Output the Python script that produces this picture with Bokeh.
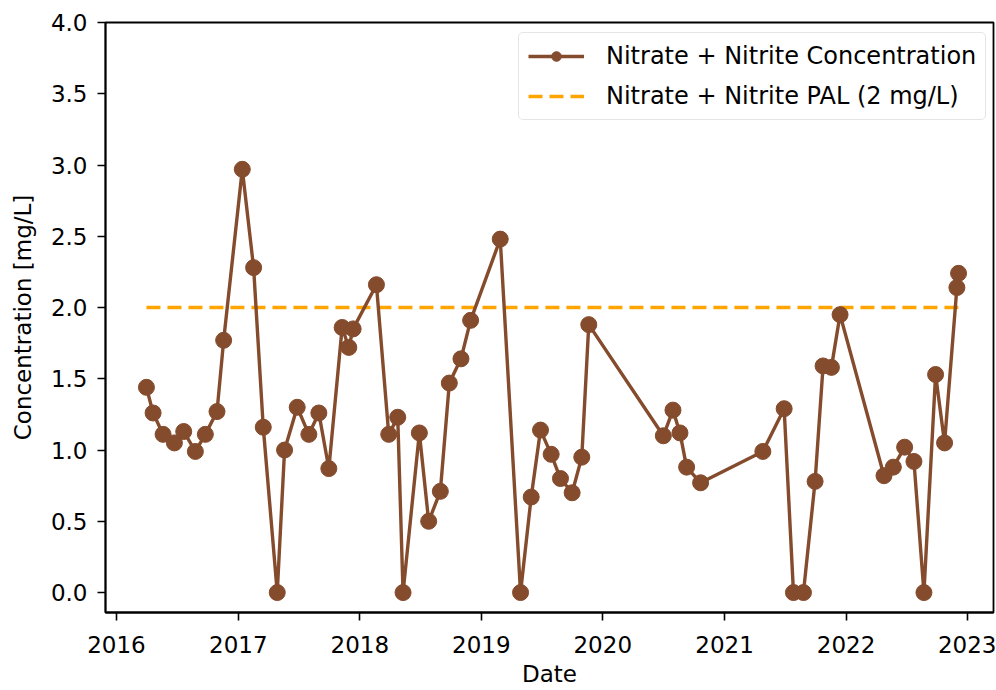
import pandas as pd
from bokeh.plotting import figure
from bokeh.models import (Range1d, FixedTicker, DatetimeTickFormatter, Legend, LegendItem,
                          CustomJSTickFormatter)
from bokeh.embed import file_html
from bokeh.resources import INLINE

# ---- data ----
sample_dates = [
    "2016-03-31", "2016-04-20", "2016-05-20", "2016-06-23", "2016-07-21", "2016-08-25",
    "2016-09-24", "2016-10-29", "2016-11-18", "2017-01-13", "2017-02-16", "2017-03-17",
    "2017-04-28", "2017-05-20", "2017-06-27", "2017-08-01", "2017-08-31", "2017-09-30",
    "2017-11-09", "2017-11-29", "2017-12-12", "2018-02-20", "2018-03-29", "2018-04-25",
    "2018-05-11", "2018-06-29", "2018-07-27", "2018-08-31", "2018-09-27", "2018-11-01",
    "2018-11-30", "2019-02-27", "2019-04-29", "2019-05-31", "2019-06-28", "2019-07-30",
    "2019-08-27", "2019-10-01", "2019-10-30", "2019-11-20", "2020-07-01", "2020-07-30",
    "2020-08-20", "2020-09-09", "2020-10-21", "2021-04-26", "2021-06-29", "2021-07-27",
    "2021-08-26", "2021-09-30", "2021-10-24", "2021-11-18", "2021-12-14", "2022-04-25",
    "2022-05-23", "2022-06-26", "2022-07-24", "2022-08-23", "2022-09-27", "2022-10-24",
    "2022-11-30", "2022-12-05",
]
concentration = [
    1.44, 1.26, 1.11, 1.05, 1.13, 0.99, 1.11, 1.27, 1.77, 2.97, 2.28, 1.16,
    0.00, 1.00, 1.30, 1.11, 1.26, 0.87, 1.86, 1.72, 1.85, 2.16, 1.11, 1.23,
    0.00, 1.12, 0.50, 0.71, 1.47, 1.64, 1.91, 2.48, 0.00, 0.67, 1.14, 0.97,
    0.80, 0.70, 0.95, 1.88, 1.10, 1.28, 1.12, 0.88, 0.77, 0.99, 1.29, 0.00,
    0.00, 0.78, 1.59, 1.58, 1.95, 0.82, 0.88, 1.02, 0.92, 0.00, 1.53, 1.05,
    2.14, 2.24,
]
pal_value = 2.0
year_ticks = [2016, 2017, 2018, 2019, 2020, 2021, 2022, 2023]
y_ticks = [0.0, 0.5, 1.0, 1.5, 2.0, 2.5, 3.0, 3.5, 4.0]

series_label = "Nitrate + Nitrite Concentration"
pal_label = "Nitrate + Nitrite PAL (2 mg/L)"
x_title = "Date"
y_title = "Concentration [mg/L]"

# ---- styling ----
FONT = "DejaVu Sans"
BROWN = "#844B2D"
ORANGE = "#FFA500"
FS = "23px"

dates = pd.to_datetime(sample_dates)

p = figure(
    width=996, height=690,
    x_axis_type="datetime",
    x_range=Range1d(pd.Timestamp("2015-11-29"), pd.Timestamp("2023-03-20")),
    y_range=Range1d(-0.14, 4.0),
    output_backend="svg", toolbar_location=None,
    min_border_left=105, min_border_right=3, min_border_top=22, min_border_bottom=78,
)
p.grid.visible = False
p.outline_line_color = "black"
p.outline_line_width = 1.8
p.background_fill_color = "white"
p.border_fill_color = "white"

pal_r = p.line([dates[0], dates[-1]], [pal_value, pal_value], line_color=ORANGE,
               line_width=3.5, line_dash="14 7")
line_r = p.line(dates, concentration, line_color=BROWN, line_width=3.4)
dot_r = p.scatter(dates, concentration, size=16, fill_color=BROWN, line_color=BROWN)

tick_ms = [pd.Timestamp(f"{y}-01-01").value / 1e6 for y in year_ticks]
p.xaxis.ticker = FixedTicker(ticks=tick_ms)
fmt = "%Y"
p.xaxis.formatter = DatetimeTickFormatter(
    milliseconds=fmt, seconds=fmt, minsec=fmt, minutes=fmt, hourmin=fmt,
    hours=fmt, days=fmt, months=fmt, years=fmt)
p.yaxis.ticker = FixedTicker(ticks=y_ticks)
p.yaxis.formatter = CustomJSTickFormatter(code="return tick.toFixed(1);")

for ax in (p.xaxis[0], p.yaxis[0]):
    ax.axis_line_width = 1.8
    ax.axis_line_color = "black"
    ax.major_tick_line_width = 1.6
    ax.major_tick_out = 8
    ax.major_tick_in = 0
    ax.minor_tick_out = 0
    ax.minor_tick_in = 0
    ax.major_label_text_font = FONT
    ax.major_label_text_font_size = FS
    ax.major_label_text_color = "black"
    ax.axis_label_text_font = FONT
    ax.axis_label_text_font_size = FS
    ax.axis_label_text_font_style = "normal"
    ax.axis_label_text_color = "black"

p.xaxis.axis_label = x_title
p.yaxis.axis_label = y_title
p.xaxis.major_label_standoff = 15
p.yaxis.major_label_standoff = 10
p.xaxis.axis_label_standoff = 5
p.yaxis.axis_label_standoff = 12

legend = Legend(items=[
    LegendItem(label=series_label, renderers=[line_r, dot_r]),
    LegendItem(label=pal_label, renderers=[pal_r]),
], location=(413, 492))
legend.label_text_font = FONT
legend.label_text_font_size = "24px"
legend.label_text_color = "black"
legend.glyph_width = 56
legend.glyph_height = 24
legend.label_standoff = 22
legend.padding = 9
legend.spacing = 12
legend.margin = 0
legend.border_line_color = "#cccccc"
legend.border_line_width = 1.5
legend.border_radius = 5
legend.background_fill_alpha = 0.8
p.add_layout(legend)

open("out.html", "w").write(file_html(p, INLINE))
